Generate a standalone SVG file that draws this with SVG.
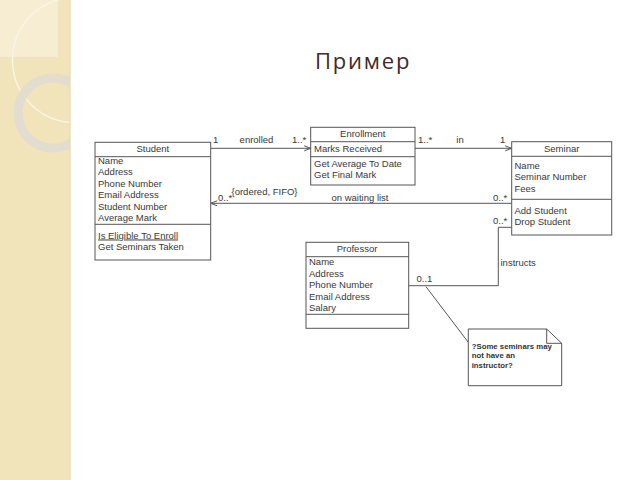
<svg xmlns="http://www.w3.org/2000/svg" width="640" height="480" viewBox="0 0 640 480">
<style>
.box{fill:#fff;stroke:#555;stroke-width:1}
.ln{fill:none;stroke:#555;stroke-width:1}
.t{font-family:"Liberation Sans",Arial,sans-serif;font-size:9.5px;fill:#383838}
.c{text-anchor:middle}
.n{font-family:"Liberation Sans",Arial,sans-serif;font-size:7.8px;font-weight:bold;fill:#333}
</style>
<defs>
<marker id="arr" viewBox="0 0 8 8" refX="7.5" refY="4" markerWidth="8" markerHeight="8" markerUnits="userSpaceOnUse" orient="auto">
<path d="M1,1.5 L7.5,4 L1,6.5" fill="none" stroke="#555" stroke-width="1"/>
</marker>
<clipPath id="pc"><rect x="0" y="0" width="70" height="480"/></clipPath>
</defs>
<rect width="640" height="480" fill="#fff"/>
<g id="sidepanel">
<rect x="0" y="0" width="70" height="480" fill="#f1e3ba"/>
<g clip-path="url(#pc)">
<rect x="0" y="0" width="58" height="57" fill="#f6edd3"/>
<circle cx="75" cy="60" r="62.5" fill="none" stroke="#faf4e2" stroke-width="1.5"/>
<circle cx="53" cy="113" r="35" fill="none" stroke="#e3ddcf" stroke-width="9"/>
</g>
<line x1="70" y1="0" x2="70" y2="480" stroke="#e2d3a8" stroke-width="1"/>
</g>
<text id="title" x="315" y="68.5" font-family="'Open Sans','Noto Sans',sans-serif" font-size="22" letter-spacing="1.8" fill="#42292a">Пример</text>
<g id="connectors">
<line class="ln" x1="210.7" y1="148.3" x2="310.7" y2="148.3" marker-end="url(#arr)"/>
<line class="ln" x1="415" y1="148.3" x2="511.7" y2="148.3" marker-end="url(#arr)"/>
<line class="ln" x1="511.7" y1="203.3" x2="210.7" y2="203.3" marker-end="url(#arr)"/>
<polyline class="ln" points="511.7,227.3 498.3,227.3 498.3,285.7 408.7,285.7"/>
<line class="ln" x1="426" y1="286.7" x2="468.3" y2="342.3"/>
<text class="t" x="213" y="143.3">1</text>
<text class="t c" x="256.5" y="143.3">enrolled</text>
<text class="t" x="292" y="143.3">1..*</text>
<text class="t" x="418" y="143.3">1..*</text>
<text class="t c" x="460" y="143.3">in</text>
<text class="t" x="500" y="143.3">1</text>
<text class="t" x="218" y="200.5">0..*</text>
<text class="t" x="231.5" y="194.5">{ordered, FIFO}</text>
<text class="t c" x="360" y="200.5">on waiting list</text>
<text class="t" x="493" y="200.5">0..*</text>
<text class="t" x="493" y="224">0..*</text>
<text class="t" x="500.5" y="266">instructs</text>
<text class="t" x="416.5" y="281.5">0..1</text>
</g>
<g id="student">
<rect class="box" x="95" y="142.3" width="115.7" height="117.7"/>
<line class="ln" x1="95" y1="156.7" x2="210.7" y2="156.7"/>
<line class="ln" x1="95" y1="224.3" x2="210.7" y2="224.3"/>
<text class="t c" x="152.8" y="151.7">Student</text>
<text class="t" x="98" y="163.5">Name</text>
<text class="t" x="98" y="175">Address</text>
<text class="t" x="98" y="186.7">Phone Number</text>
<text class="t" x="98" y="198.2">Email Address</text>
<text class="t" x="98" y="209.8">Student Number</text>
<text class="t" x="98" y="221.3">Average Mark</text>
<text class="t" x="98" y="238.5" text-decoration="underline">Is Eligible To Enroll</text>
<text class="t" x="98" y="250">Get Seminars Taken</text>
</g>
<g id="enrollment">
<rect class="box" x="310.7" y="127.3" width="104.3" height="57.7"/>
<line class="ln" x1="310.7" y1="141.7" x2="415" y2="141.7"/>
<line class="ln" x1="310.7" y1="156.7" x2="415" y2="156.7"/>
<text class="t c" x="362.8" y="136.8">Enrollment</text>
<text class="t" x="314" y="151.8">Marks Received</text>
<text class="t" x="314" y="166.8">Get Average To Date</text>
<text class="t" x="314" y="177.5">Get Final Mark</text>
</g>
<g id="seminar">
<rect class="box" x="511.7" y="141.7" width="100" height="93.3"/>
<line class="ln" x1="511.7" y1="156.3" x2="611.7" y2="156.3"/>
<line class="ln" x1="511.7" y1="199.3" x2="611.7" y2="199.3"/>
<text class="t c" x="561.7" y="151.8">Seminar</text>
<text class="t" x="514.5" y="168.5">Name</text>
<text class="t" x="514.5" y="180.2">Seminar Number</text>
<text class="t" x="514.5" y="191.8">Fees</text>
<text class="t" x="514.5" y="213.5">Add Student</text>
<text class="t" x="514.5" y="225.2">Drop Student</text>
</g>
<g id="professor">
<rect class="box" x="306" y="242.3" width="102.7" height="86"/>
<line class="ln" x1="306" y1="256.7" x2="408.7" y2="256.7"/>
<line class="ln" x1="306" y1="314.3" x2="408.7" y2="314.3"/>
<text class="t c" x="357" y="251.8">Professor</text>
<text class="t" x="309" y="265.2">Name</text>
<text class="t" x="309" y="276.8">Address</text>
<text class="t" x="309" y="288.4">Phone Number</text>
<text class="t" x="309" y="300">Email Address</text>
<text class="t" x="309" y="311.4">Salary</text>
</g>
<g id="note">
<path class="box" d="M468.3,329 L546.7,329 L561.7,343.3 L561.7,385.7 L468.3,385.7 Z"/>
<path class="ln" d="M546.7,329 L546.7,343.3 L561.7,343.3"/>
<text class="n" x="471.7" y="348.5">?Some seminars may</text>
<text class="n" x="471.7" y="358.3">not have an</text>
<text class="n" x="471.7" y="367.8">instructor?</text>
</g>
</svg>
